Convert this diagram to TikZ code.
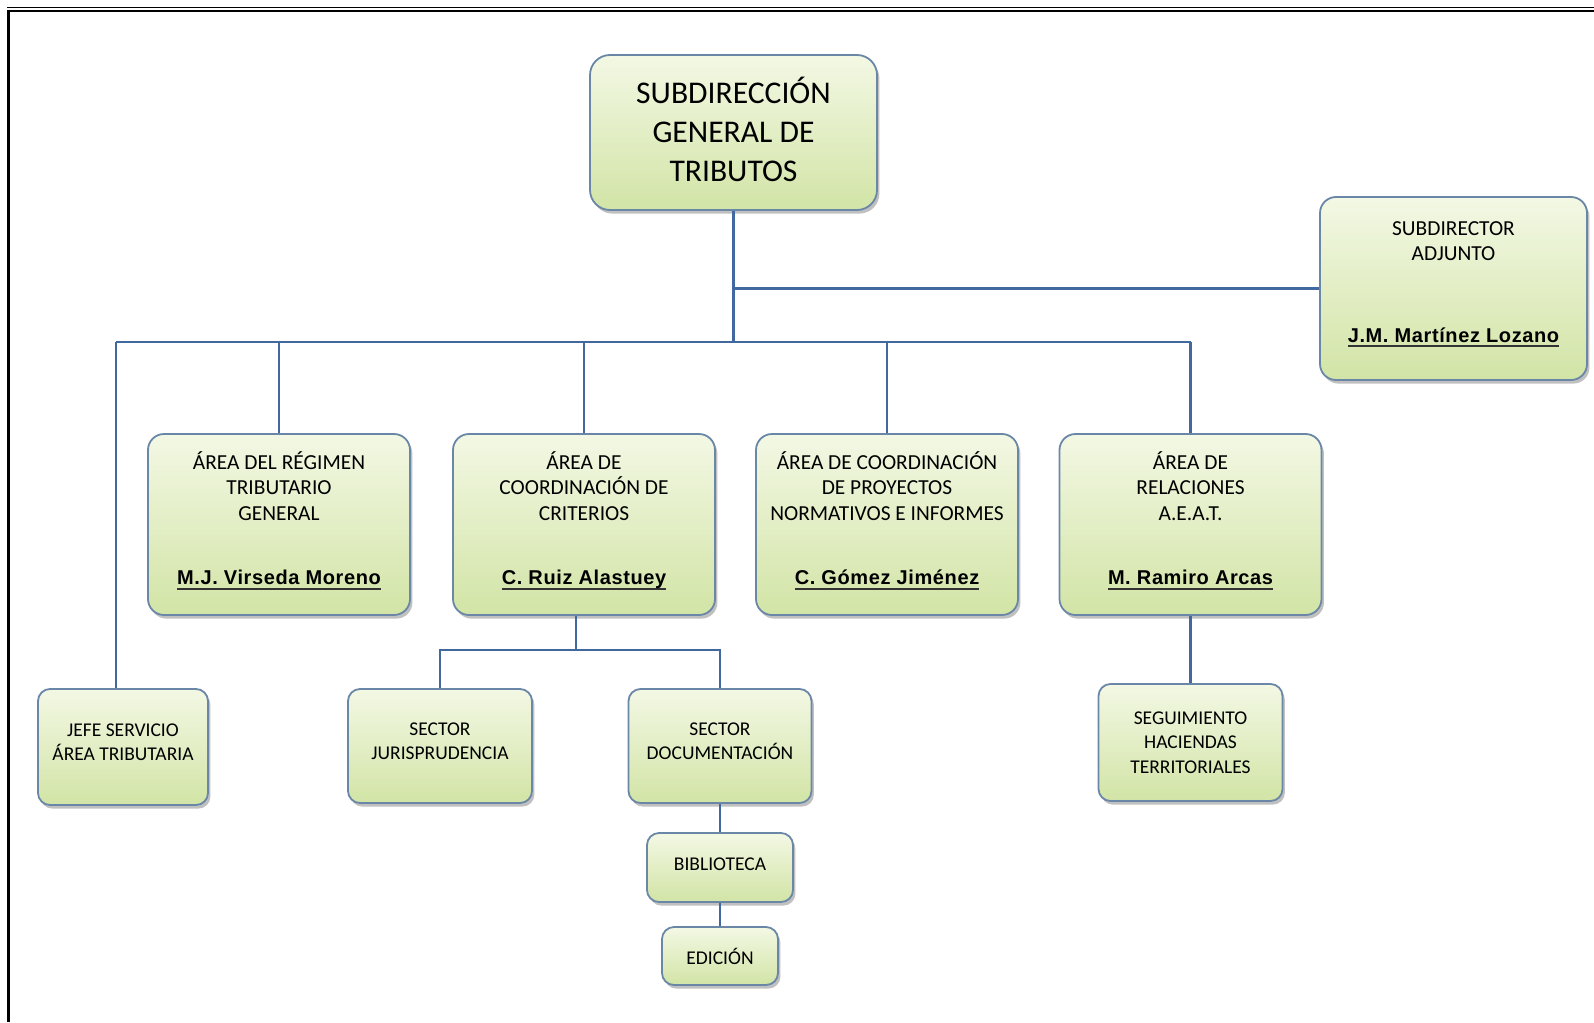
\documentclass[tikz,border=0pt]{standalone}
\usepackage{fontspec}
\setmainfont{Carlito}
\newfontfamily\namefont{Liberation Sans}[LetterSpace=3]
\usetikzlibrary{shadows,calc}
\definecolor{boxtop}{HTML}{F3F8E4}
\definecolor{boxbot}{HTML}{D2E4A6}
\definecolor{boxedge}{HTML}{6A87A8}
\definecolor{linkc}{HTML}{4169A0}
\newcommand{\nm}[1]{{\fontsize{10}{12}\namefont\bfseries\setbox0=\hbox{#1}\leavevmode\rlap{\color{black!80}\rule[-2.4pt]{\wd0}{0.9pt}}\box0}}
\newcommand{\dn}[1]{\rule[-#1]{0pt}{0pt}}
\tikzset{
  orgbox/.style={draw=boxedge, line width=0.9pt, rounded corners=8pt,
    top color=boxtop, bottom color=boxbot,
    drop shadow={shadow xshift=1.2pt, shadow yshift=-1.8pt, opacity=0.45, fill=black!55},
    align=center, inner sep=0pt, text=black},
  areabox/.style={orgbox, minimum width=131pt, minimum height=90.5pt,
    font=\fontsize{10.7}{12.75}\selectfont},
  smallbox/.style={orgbox, rounded corners=6pt, font=\fontsize{9.75}{12.2}\selectfont},
  link/.style={draw=linkc, line width=1.3pt},
  frame/.style={draw=black}
}
\begin{document}
\begin{tikzpicture}[x=0.5pt,y=-0.5pt]
\useasboundingbox (0,0) rectangle (1594,1022);
% page frame
\draw[frame, line width=0.5pt] (7,7.8) -- (1594,7.8);
\draw[frame, line width=1.2pt] (7,11.2) -- (1594,11.2);
\draw[frame, line width=1.5pt] (8.5,10) -- (8.5,1022);

% boxes
\node[orgbox, minimum width=143.5pt, minimum height=77.5pt, rounded corners=10pt,
  font=\fontsize{15.8}{19.6}\selectfont] (main) at (733.5,132.5) {SUBDIRECCIÓN\\GENERAL DE\\TRIBUTOS\dn{3pt}};
\node[orgbox, minimum width=133.5pt, minimum height=91.5pt,
  font=\fontsize{10.7}{12.2}\selectfont] (adj) at (1453.5,288.5) {SUBDIRECTOR\\ADJUNTO\\[29pt]\nm{J.M. Martínez Lozano}\dn{6.4pt}};

\node[areabox] (reg) at (279,524.5) {ÁREA DEL RÉGIMEN\\TRIBUTARIO\\GENERAL\\[19.5pt]\nm{M.J. Virseda Moreno}\dn{6.4pt}};
\node[areabox] (crit) at (584,524.5) {ÁREA DE\\COORDINACIÓN DE\\CRITERIOS\\[19.5pt]\nm{C. Ruiz Alastuey}\dn{6.4pt}};
\node[areabox] (proy) at (887,524.5) {ÁREA DE COORDINACIÓN\\DE PROYECTOS\\NORMATIVOS E INFORMES\\[19.5pt]\nm{C. Gómez Jiménez}\dn{6.4pt}};
\node[areabox] (rel) at (1190.5,524.5) {ÁREA DE\\RELACIONES\\A.E.A.T.\\[19.5pt]\nm{M. Ramiro Arcas}\dn{6.4pt}};

\node[smallbox, minimum width=85pt, minimum height=58pt] (jefe) at (123,747) {JEFE SERVICIO\\ÁREA TRIBUTARIA\dn{5pt}};
\node[smallbox, minimum width=92pt, minimum height=57pt] (juris) at (440,746) {SECTOR\\JURISPRUDENCIA\dn{5pt}};
\node[smallbox, minimum width=91.5pt, minimum height=57pt] (doc) at (720,746) {SECTOR\\DOCUMENTACIÓN\dn{5pt}};
\node[smallbox, minimum width=73pt, minimum height=34.5pt] (bib) at (720,867.5) {BIBLIOTECA\dn{3pt}};
\node[smallbox, minimum width=58pt, minimum height=29pt] (edi) at (720,956) {EDICIÓN};
\node[smallbox, minimum width=92pt, minimum height=58.5pt] (seg) at (1190.5,742.5) {SEGUIMIENTO\\HACIENDAS\\TERRITORIALES};

% connectors
\coordinate (barL) at (116,342);
\coordinate (cb) at (576,650);
\draw[link] (main.south) -- (main.south |- barL);
\draw[link] (main.south |- adj.west) -- (adj.west);
\draw[link] (barL) -- (rel.north |- barL);
\draw[link] (barL) -- (barL |- jefe.north);
\draw[link] (reg.north |- barL) -- (reg.north);
\draw[link] (crit.north |- barL) -- (crit.north);
\draw[link] (proy.north |- barL) -- (proy.north);
\draw[link] (rel.north |- barL) -- (rel.north);
\draw[link] (cb |- crit.south) -- (cb);
\draw[link] (juris.north) |- (cb) -| (doc.north);
\draw[link] (doc.south) -- (bib.north);
\draw[link] (bib.south) -- (edi.north);
\draw[link] (rel.south) -- (seg.north);
\end{tikzpicture}
\end{document}
